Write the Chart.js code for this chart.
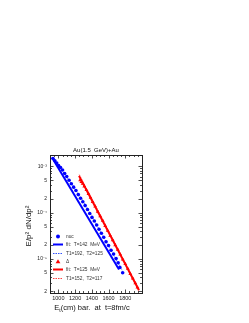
<!DOCTYPE html>
<html>
<head>
<meta charset="utf-8">
<script src="https://cdn.jsdelivr.net/npm/chart.js@4/dist/chart.umd.min.js"></script>
<style>html,body{margin:0;padding:0;background:#fff}</style>
</head>
<body>
<canvas id="spectrum" width="249" height="323"></canvas>
<script>
"use strict";

// nucleons (blue dots), E_t in MeV vs E/p^2 dN/dp^2
const nuc_e = [936, 958, 980, 1002, 1026, 1050, 1075, 1100, 1128, 1155, 1182, 1210, 1238, 1265, 1292, 1320, 1348, 1375, 1402, 1430, 1458, 1486, 1514, 1542, 1570, 1600, 1630, 1660, 1690, 1715, 1735, 1769]
const nuc_v = [1.47e-3, 1.32e-3, 1.17e-3, 1.04e-3, 9.4e-4, 8.3e-4, 7.0e-4, 6.0e-4, 5.0e-4, 4.2e-4, 3.55e-4, 3.0e-4, 2.45e-4, 2.05e-4, 1.72e-4, 1.42e-4, 1.17e-4, 9.6e-5, 7.9e-5, 6.6e-5, 5.4e-5, 4.4e-5, 3.6e-5, 2.95e-5, 2.35e-5, 1.95e-5, 1.55e-5, 1.28e-5, 1.02e-5, 8.3e-6, 6.6e-6, 5.07e-6]

// deltas (red triangles)
const delta_e = [1260, 1275, 1290, 1310, 1335, 1360, 1385, 1410, 1440, 1470, 1500, 1530, 1560, 1590, 1620, 1650, 1680, 1710, 1740, 1770, 1800, 1830, 1860, 1890, 1920, 1945]
const delta_v = [5.0e-4, 4.6e-4, 4.2e-4, 3.7e-4, 3.1e-4, 2.55e-4, 2.1e-4, 1.7e-4, 1.36e-4, 1.05e-4, 8.4e-5, 6.7e-5, 5.2e-5, 4.1e-5, 3.2e-5, 2.55e-5, 2.0e-5, 1.6e-5, 1.25e-5, 9.8e-6, 7.8e-6, 6.2e-6, 4.8e-6, 3.8e-6, 3.0e-6, 2.45e-6]

// fits
const nuc_fit_e = [924, 1725]
const nuc_fit_v = [1.55e-3, 5.96e-6]
const nuc_two_e = [940, 1300, 1765]
const nuc_two_v = [1.55e-3, 1.75e-4, 5.6e-6]
const delta_fit_e = [1247, 1964]
const delta_fit_v = [6.2e-4, 2.12e-6]
const delta_two_e = [1250, 1600, 1960]
const delta_two_v = [6.6e-4, 4.1e-5, 2.1e-6]

const x_labels = [1000, 1200, 1400, 1600, 1800]
const x_small = [900, 950, 1000, 1050, 1100, 1150, 1200, 1250, 1300, 1350, 1400, 1450, 1500, 1550, 1600, 1650, 1700, 1750, 1800, 1850, 1900, 1950, 2000]
const y_labels = [2e-6, 5e-6, 1e-5, 2e-5, 5e-5, 1e-4, 2e-4, 5e-4, 1e-3]
const y_small = [2e-6, 3e-6, 4e-6, 5e-6, 6e-6, 7e-6, 8e-6, 9e-6, 1e-5, 2e-5, 3e-5, 4e-5, 5e-5, 6e-5, 7e-5, 8e-5, 9e-5, 1e-4, 2e-4, 3e-4, 4e-4, 5e-4, 6e-4, 7e-4, 8e-4, 9e-4, 1e-3]

const blue = "#0000ff"
const red = "#ff0000"
const font = "'Liberation Sans', Arial, sans-serif"

const pairs = (xs, ys) => xs.map((x, i) => ({x: x, y: ys[i]}))

const legend_items = [
    {kind: "circle", color: blue, text: "nuc"},
    {kind: "solid", color: blue, text: "fit:  T=142  MeV"},
    {kind: "dot", color: "#3050ff", text: "T1=192,  T2=125"},
    {kind: "triangle", color: red, text: "Δ"},
    {kind: "solid", color: red, text: "fit:  T=125  MeV"},
    {kind: "dot", color: "#ff4040", text: "T1=152,  T2=117"}
]

const same = (a, b) => Math.abs(a - b) / b < 1e-6

const decorations = {
    id: "decorations",
    afterDraw(chart) {
        const ctx = chart.ctx
        const a = chart.chartArea
        const xs = chart.scales.x
        const ys = chart.scales.y
        ctx.save()

        // frame + inner ticks
        ctx.strokeStyle = "#222"
        ctx.lineWidth = 0.8
        ctx.beginPath()
        x_small.forEach(v => {
            const px = Math.round(xs.getPixelForValue(v)) + 0.5
            const len = x_labels.includes(v) ? 3.5 : 2
            ctx.moveTo(px, a.bottom); ctx.lineTo(px, a.bottom - len)
            ctx.moveTo(px, a.top); ctx.lineTo(px, a.top + len)
        })
        y_small.forEach(v => {
            const py = Math.round(ys.getPixelForValue(v)) + 0.5
            const len = y_labels.some(l => same(l, v)) ? 3.5 : 2
            ctx.moveTo(a.left, py); ctx.lineTo(a.left + len, py)
            ctx.moveTo(a.right, py); ctx.lineTo(a.right - len, py)
        })
        ctx.stroke()
        ctx.lineWidth = 1
        ctx.strokeRect(Math.round(a.left) + 0.5, Math.round(a.top) + 0.5, Math.round(a.right - a.left), Math.round(a.bottom - a.top))

        // legend
        ctx.font = "4.8px " + font
        ctx.textBaseline = "middle"
        ctx.textAlign = "left"
        legend_items.forEach((it, i) => {
            const y = Math.round(a.top + 81 + i * 8.3) + 0.5
            const x0 = a.left + 3
            ctx.fillStyle = it.color
            ctx.strokeStyle = it.color
            if (it.kind == "circle") {
                ctx.beginPath(); ctx.arc(x0 + 5, y, 2, 0, Math.PI * 2); ctx.fill()
            } else if (it.kind == "triangle") {
                ctx.beginPath(); ctx.moveTo(x0 + 5, y - 2.3); ctx.lineTo(x0 + 7.4, y + 1.8); ctx.lineTo(x0 + 2.6, y + 1.8); ctx.closePath(); ctx.fill()
            } else {
                ctx.lineWidth = it.kind == "solid" ? 2 : 1
                ctx.setLineDash(it.kind == "solid" ? [] : [1.5, 1])
                ctx.beginPath(); ctx.moveTo(x0, y); ctx.lineTo(x0 + 10, y); ctx.stroke()
                ctx.setLineDash([])
            }
            ctx.fillStyle = "#333"
            ctx.fillText(it.text, x0 + 13, y)
        })

        // title
        ctx.fillStyle = "#111"
        ctx.textAlign = "center"
        ctx.textBaseline = "alphabetic"
        ctx.font = "6px " + font
        ctx.fillText("Au(1.5  GeV)+Au", (a.left + a.right) / 2, a.top - 3)

        // x title with subscript
        ctx.font = "7.5px " + font
        ctx.textAlign = "left"
        const rest = "(cm) bar.  at  t=8fm/c"
        const wE = ctx.measureText("E").width
        ctx.font = "5px " + font
        const wt = ctx.measureText("t").width
        ctx.font = "7.5px " + font
        const wr = ctx.measureText(rest).width
        let xx = (a.left + a.right) / 2 - (wE + wt + wr) / 2 - 4
        const yb = 310
        ctx.fillText("E", xx, yb)
        ctx.font = "5px " + font
        ctx.fillText("t", xx + wE, yb + 1.5)
        ctx.font = "7.5px " + font
        ctx.fillText(rest, xx + wE + wt, yb)

        // y title
        ctx.translate(31, (a.top + a.bottom) / 2 + 2)
        ctx.rotate(-Math.PI / 2)
        ctx.textAlign = "center"
        ctx.font = "8px " + font
        ctx.fillText("E/p² dN/dp²", 0, 0)
        ctx.restore()
    }
}

const sup = {"-": "⁻", "0": "⁰", "1": "¹", "2": "²", "3": "³", "4": "⁴", "5": "⁵", "6": "⁶", "7": "⁷", "8": "⁸", "9": "⁹"}

function y_label(v) {
    if (!y_labels.some(l => same(l, v))) return ""
    const e = Math.floor(Math.log10(v) + 1e-9)
    const m = Math.round(v / Math.pow(10, e))
    if (m == 1) return "10" + String(e).split("").map(c => sup[c]).join("")
    return String(m)
}

const config = {
    type: "scatter",
    data: {
        datasets: [
            {
                label: "nuc",
                data: pairs(nuc_e, nuc_v),
                pointStyle: "circle",
                pointRadius: 1.8,
                backgroundColor: blue,
                borderColor: blue,
                borderWidth: 0
            },
            {
                label: "fit nuc",
                type: "line",
                data: pairs(nuc_fit_e, nuc_fit_v),
                borderColor: blue,
                borderWidth: 2,
                pointRadius: 0
            },
            {
                label: "two T nuc",
                type: "line",
                data: pairs(nuc_two_e, nuc_two_v),
                borderColor: "#5070ff",
                borderWidth: 1,
                borderDash: [1.5, 1],
                pointRadius: 0
            },
            {
                label: "delta",
                data: pairs(delta_e, delta_v),
                pointStyle: "triangle",
                pointRadius: 2.2,
                backgroundColor: red,
                borderColor: red,
                borderWidth: 0
            },
            {
                label: "fit delta",
                type: "line",
                data: pairs(delta_fit_e, delta_fit_v),
                borderColor: red,
                borderWidth: 2,
                pointRadius: 0
            },
            {
                label: "two T delta",
                type: "line",
                data: pairs(delta_two_e, delta_two_v),
                borderColor: "#ff5050",
                borderWidth: 1,
                borderDash: [1.5, 1],
                pointRadius: 0
            }
        ]
    },
    options: {
        responsive: false,
        animation: false,
        events: [],
        layout: {padding: {left: 0, right: 107, top: 155, bottom: 0}},
        plugins: {legend: {display: false}, tooltip: {enabled: false}, title: {display: false}},
        scales: {
            x: {
                type: "linear",
                min: 900,
                max: 2000,
                afterFit: s => { s.height = 30 },
                afterBuildTicks: s => { s.ticks = x_labels.map(v => ({value: v})) },
                grid: {display: false, drawTicks: false},
                border: {display: false},
                ticks: {color: "#222", padding: 2, font: {size: 5.5, family: font}, callback: v => String(v)}
            },
            y: {
                type: "logarithmic",
                min: 1.85e-6,
                max: 1.75e-3,
                afterFit: s => { s.width = 50 },
                afterBuildTicks: s => { s.ticks = y_labels.map(v => ({value: v})) },
                grid: {display: false, drawTicks: false},
                border: {display: false},
                ticks: {color: "#222", padding: 3, font: {size: 5, family: font}, callback: v => y_label(v), autoSkip: false}
            }
        }
    },
    plugins: [decorations]
}

new Chart(document.getElementById("spectrum"), config)
</script>
</body>
</html>
